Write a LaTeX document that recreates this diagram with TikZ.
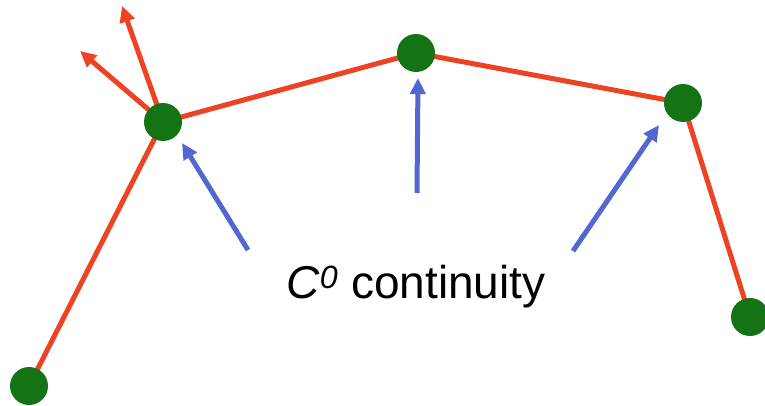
\documentclass[tikz,border=0pt]{standalone}
\usepackage{fontspec}
\setmainfont{Liberation Sans}
\usetikzlibrary{arrows.meta}
\definecolor{curvered}{RGB}{238,66,36}
\definecolor{ptgreen}{RGB}{20,115,20}
\definecolor{markblue}{RGB}{82,103,208}

\begin{document}
\begin{tikzpicture}[x=1pt, y=-1pt,
  seg/.style={line width=5pt, curvered},
  tangent/.style={line width=5pt, curvered, -{Triangle[length=16pt, width=15pt]}},
  pointer/.style={line width=5pt, markblue, -{Triangle[length=16pt, width=15pt]}},
  dot/.style={circle, fill=ptgreen, minimum size=38pt, inner sep=0pt}
]
\useasboundingbox (0,0) rectangle (765,406);
% control points of the curve
\coordinate (p0) at (29,386);
\coordinate (p1) at (163,122);
\coordinate (p2) at (416,53);
\coordinate (p3) at (683,103);
\coordinate (p4) at (750,317);
\draw[seg] (p0) -- (p1) -- (p2) -- (p3) -- (p4);
% tangents at the joint
\coordinate (t1) at (122,6);
\coordinate (t2) at (80,51);
\draw[tangent] (p1) -- (t1);
\draw[tangent] (p1) -- (t2);
\node[dot] (n0) at (p0) {};
\node[dot] (n1) at (p1) {};
\node[dot] (n2) at (p2) {};
\node[dot] (n3) at (p3) {};
\node[dot] (n4) at (p4) {};
% label and pointers
\node[font=\fontsize{46}{48}\selectfont, anchor=base, inner sep=0pt] (label) at (416,298) {\textit{C}\textsuperscript{\textit{0}} continuity};
\coordinate (a1) at (248,250);
\coordinate (b1) at (182,143);
\coordinate (a2) at (417,193);
\coordinate (b2) at (418,78);
\coordinate (a3) at (573,251);
\coordinate (b3) at (659,125);
\draw[pointer] (a1) -- (b1);
\draw[pointer] (a2) -- (b2);
\draw[pointer] (a3) -- (b3);
\end{tikzpicture}
\end{document}
